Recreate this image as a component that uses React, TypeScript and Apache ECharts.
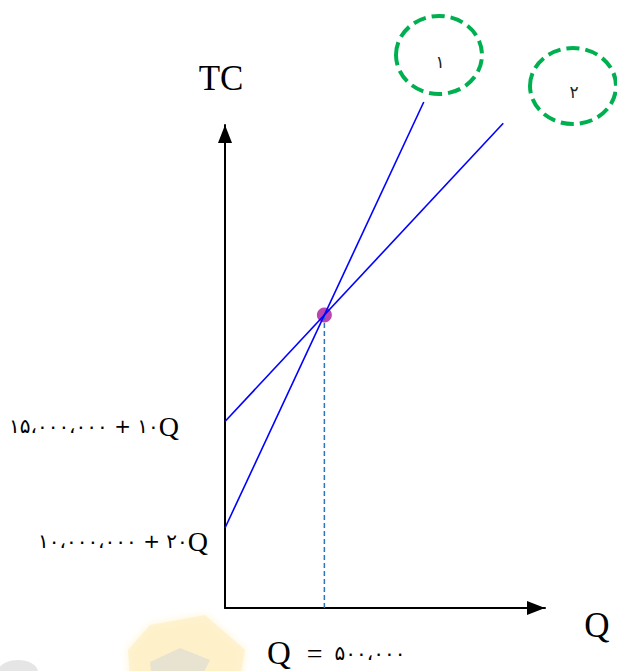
import React, { useEffect, useRef } from "react";
import * as echarts from "echarts";

// Cost functions: TC = fixed + variable * Q
const line1Fixed = 10000000;
const line1Variable = 20;
const line2Fixed = 15000000;
const line2Variable = 10;
const breakEvenQ = 500000;
const line1QEnd = 1000000;
const line2QEnd = 1400000;
const qAxisMax = 1610000;
const tcAxisMin = 6244000;
const tcAxisMax = 28920000;

const line1Label = "۱۰،۰۰۰،۰۰۰ + ۲۰";
const line2Label = "۱۵،۰۰۰،۰۰۰ + ۱۰";
const breakEvenLabel = "۵۰۰،۰۰۰";
const circleLabels = ["۱", "۲"];
const yName = "TC";
const xName = "Q";

const tc = (fixed: number, v: number, q: number) => fixed + v * q;

export default function App() {
  const ref = useRef<HTMLDivElement>(null);
  useEffect(() => {
    document.body.style.margin = "0";
    const chart = echarts.init(ref.current!, undefined, { renderer: "svg" });
    const breakEvenTC = tc(line1Fixed, line1Variable, breakEvenQ);
    const serif = "'Liberation Serif', 'Times New Roman', serif";
    const persian = "'DejaVu Sans', sans-serif";
    const circleStyle = {
      fill: "none",
      stroke: "#00b050",
      lineWidth: 4,
      lineDash: [13, 6],
    };
    chart.setOption({
      animation: false,
      backgroundColor: "#ffffff",
      grid: { left: 225, top: 125, width: 320, height: 483, containLabel: false },
      xAxis: {
        type: "value",
        min: 0,
        max: qAxisMax,
        axisLine: {
          show: true,
          symbol: ["none", "triangle"],
          symbolSize: [14, 18],
          symbolOffset: [0, -9],
          lineStyle: { color: "#000", width: 2 },
        },
        axisTick: { show: false },
        axisLabel: { show: false },
        splitLine: { show: false },
      },
      yAxis: {
        type: "value",
        min: tcAxisMin,
        max: tcAxisMax,
        axisLine: {
          show: true,
          symbol: ["none", "triangle"],
          symbolSize: [14, 18],
          symbolOffset: [0, -9],
          lineStyle: { color: "#000", width: 2 },
        },
        axisTick: { show: false },
        axisLabel: { show: false },
        splitLine: { show: false },
      },
      series: [
        {
          type: "scatter",
          z: 1,
          symbolSize: 15,
          itemStyle: { color: "#a8169e" },
          data: [[breakEvenQ, breakEvenTC]],
        },
        {
          type: "line",
          z: 2,
          clip: false,
          symbol: "none",
          lineStyle: { color: "#2e75b6", width: 1.5, type: [5, 3] },
          data: [
            [breakEvenQ, tcAxisMin],
            [breakEvenQ, breakEvenTC],
          ],
        },
        {
          type: "line",
          z: 3,
          clip: false,
          symbol: "none",
          lineStyle: { color: "#0000ff", width: 1.6 },
          data: [
            [0, tc(line1Fixed, line1Variable, 0)],
            [line1QEnd, tc(line1Fixed, line1Variable, line1QEnd)],
          ],
        },
        {
          type: "line",
          z: 3,
          clip: false,
          symbol: "none",
          lineStyle: { color: "#0000ff", width: 1.6 },
          data: [
            [0, tc(line2Fixed, line2Variable, 0)],
            [line2QEnd, tc(line2Fixed, line2Variable, line2QEnd)],
          ],
        },
      ],
      graphic: [
        // faint watermark
        {
          type: "polygon",
          z: -10,
          shape: {
            points: [
              [150, 625],
              [205, 615],
              [245, 650],
              [240, 680],
              [130, 680],
              [128, 650],
            ],
          },
          style: { fill: "#fdf0c4", opacity: 0.7, shadowBlur: 8, shadowColor: "#fdf0c4" },
        },
        {
          type: "polygon",
          z: -9,
          shape: {
            points: [
              [150, 662],
              [180, 648],
              [210, 660],
              [200, 680],
              [152, 680],
            ],
          },
          style: { fill: "#d6d6d6", opacity: 0.55 },
        },
        {
          type: "ellipse",
          z: -9,
          shape: { cx: 18, cy: 672, rx: 20, ry: 12 },
          style: { fill: "#cfcfcf", opacity: 0.55 },
        },
        {
          type: "text",
          style: {
            text: yName,
            x: 221,
            y: 78,
            align: "center",
            verticalAlign: "middle",
            font: `35px ${serif}`,
            fill: "#000",
          },
        },
        {
          type: "text",
          style: {
            text: xName,
            x: 597,
            y: 625,
            align: "center",
            verticalAlign: "middle",
            font: `35px ${serif}`,
            fill: "#000",
          },
        },
        {
          type: "text",
          style: {
            text: "{q|Q}{e|=}{d|" + breakEvenLabel + "}",
            x: 267,
            y: 653,
            align: "left",
            verticalAlign: "middle",
            rich: {
              q: { font: `33px ${serif}`, fill: "#000", lineHeight: 34 },
              e: { font: `28px ${serif}`, fill: "#000", padding: [0, 12, 0, 16], lineHeight: 34 },
              d: { font: `20px ${persian}`, fill: "#000", lineHeight: 34 },
            },
          },
        },
        {
          type: "text",
          style: {
            text: "{d|" + line2Label + "}{q|Q}",
            x: 179,
            y: 426,
            align: "right",
            verticalAlign: "middle",
            rich: {
              d: { font: `20px ${persian}`, fill: "#000" },
              q: { font: `28px ${serif}`, fill: "#000" },
            },
          },
        },
        {
          type: "text",
          style: {
            text: "{d|" + line1Label + "}{q|Q}",
            x: 208,
            y: 541,
            align: "right",
            verticalAlign: "middle",
            rich: {
              d: { font: `20px ${persian}`, fill: "#000" },
              q: { font: `28px ${serif}`, fill: "#000" },
            },
          },
        },
        {
          type: "ellipse",
          shape: { cx: 439, cy: 55, rx: 43, ry: 39 },
          style: circleStyle,
        },
        {
          type: "ellipse",
          shape: { cx: 573, cy: 86, rx: 43, ry: 38 },
          style: circleStyle,
        },
        {
          type: "text",
          style: {
            text: circleLabels[0],
            x: 440,
            y: 62,
            align: "center",
            verticalAlign: "middle",
            font: `17px ${persian}`,
            fill: "#222",
          },
        },
        {
          type: "text",
          style: {
            text: circleLabels[1],
            x: 574,
            y: 92,
            align: "center",
            verticalAlign: "middle",
            font: `17px ${persian}`,
            fill: "#222",
          },
        },
      ],
    });
    return () => chart.dispose();
  }, []);
  return <div ref={ref} style={{ width: 617, height: 671 }} />;
}
